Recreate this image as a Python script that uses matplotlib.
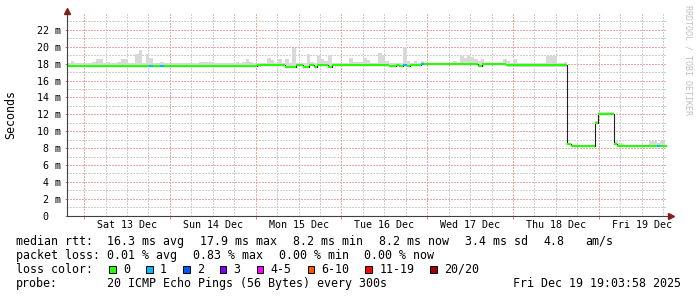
import matplotlib.pyplot as plt
from matplotlib.patches import Rectangle
from matplotlib.ticker import MultipleLocator, FuncFormatter
import numpy as np

plt.rcParams['font.family'] = ['DejaVu Sans Mono']

# time axis in hours from Sat 13 Dec 00:00, graph ends Fri 19 Dec 19:03:58
t_start = -4.93
t_end = 163.07
day_labels = ['Sat 13 Dec', 'Sun 14 Dec', 'Mon 15 Dec', 'Tue 16 Dec',
              'Wed 17 Dec', 'Thu 18 Dec', 'Fri 19 Dec']

# median rtt in ms, as steps (start hour, value, lost pings)
med_start = [-4.93, 18.09, 19.21, 21.17, 22.46, 48.40, 56.29, 59.28, 61.16, 63.00,
             64.23, 65.16, 68.15, 69.27, 85.37, 87.25, 88.09, 89.12, 90.24, 91.16,
             94.24, 95.16, 110.09, 111.30, 118.01, 134.98, 136.10, 142.98, 143.82, 148.13,
             148.97, 160.23, 160.99]
med_rtt = [17.75, 17.75, 17.75, 17.75, 17.75, 17.9, 17.65, 17.9, 17.65, 17.9,
           17.65, 17.9, 17.65, 17.9, 17.7, 17.9, 17.75, 17.9, 17.75, 17.9,
           18.0, 18.0, 17.7, 18.0, 17.8, 8.5, 8.25, 11.0, 12.1, 8.5,
           8.25, 8.25, 8.25]
med_loss = [0, 1, 0, 1, 0, 0, 0, 0, 0, 0,
            0, 0, 0, 0, 0, 0, 0, 1, 0, 0,
            1, 0, 0, 0, 0, 0, 0, 0, 0, 0,
            0, 1, 0]

# smoke: upper end of the ping spread (ms)
smoke_start = [-4.93, -3.64, -2.71, 2.24, 3.36, 5.23, 6.35, 7.27, 9.23, 10.35,
               11.27, 12.22, 14.26, 15.46, 16.22, 17.34, 18.09, 19.21, 21.17, 22.46,
               28.24, 31.32, 32.16, 36.44, 40.18, 41.30, 42.42, 43.34, 44.18, 45.30,
               46.22, 47.18, 49.50, 51.17, 52.29, 53.22, 54.17, 55.37, 56.29, 57.24,
               58.17, 59.28, 62.36, 63.28, 64.23, 65.16, 66.28, 67.20, 68.15, 69.27,
               74.19, 75.31, 77.94, 79.05, 79.98, 82.13, 83.25, 84.17, 85.37, 89.12,
               90.24, 91.16, 92.28, 93.04, 94.24, 95.16, 101.23, 103.10, 104.22, 105.15,
               106.26, 107.10, 108.22, 109.14, 110.09, 111.02, 111.94, 113.81, 115.21, 116.14,
               117.25, 118.29, 119.21, 120.05, 121.00, 122.20, 125.92, 127.32, 129.19, 132.27,
               133.19, 134.14, 134.98, 136.10, 142.98, 143.82, 148.13, 149.33, 150.73, 158.00,
               160.23, 161.00, 162.40]
smoke_top = [18.05, 18.26, 18.05, 18.2, 18.5, 18.05, 18.2, 18.05, 18.2, 18.6,
             18.5, 18.1, 19.1, 19.56, 18.05, 19.1, 18.7, 18.05, 18.2, 18.05,
             18.1, 18.05, 18.2, 18.05, 18.1, 18.05, 18.2, 18.05, 18.2, 18.5,
             18.2, 18.05, 18.1, 18.7, 18.46, 18.1, 18.5, 18.1, 18.5, 18.1,
             19.8, 18.1, 19.1, 18.2, 18.1, 18.85, 18.5, 18.35, 18.97, 18.1,
             18.7, 18.2, 18.7, 18.46, 18.05, 19.3, 19.0, 18.35, 18.1, 20.0,
             18.35, 18.05, 18.35, 18.05, 18.35, 18.05, 18.1, 18.35, 18.05, 18.85,
             18.7, 19.0, 18.8, 18.6, 18.35, 18.6, 18.05, 18.1, 18.05, 18.1,
             18.5, 18.35, 18.05, 18.5, 18.1, 18.05, 18.1, 18.05, 18.85, 18.1,
             18.05, 18.2, 8.6, 8.35, 11.2, 12.3, 8.8, 8.6, 8.35, 8.9,
             8.55, 8.9, 8.35]

loss_labels = ['0', '1', '2', '3', '4-5', '6-10', '11-19', '20/20']
loss_colors = ['#26ff00', '#00b8ff', '#0059ff', '#7e00ff', '#ff00ff',
               '#ff5500', '#ff0000', '#a10000']

rtt_stats = [16.3, 17.9, 8.2, 8.2, 3.4]
rtt_names = ['avg', 'max', 'min', 'now', 'sd']
am_s = 4.8
loss_stats = [0.01, 0.83, 0.00, 0.00]
loss_names = ['avg', 'max', 'min', 'now']
probe_text = '20 ICMP Echo Pings (56 Bytes) every 300s'
stamp_text = 'Fri Dec 19 19:03:58 2025'

W, H = 697, 297


def fx(x):
    return x / W


def fy(y):
    return 1 - y / H


fig = plt.figure(figsize=(W / 100, H / 100), dpi=100)
ax = fig.add_axes([fx(66.5), fy(215.7), (667 - 66.5) / W, (215.7 - 13) / H])

# smoke
s_edges = np.append(smoke_start, t_end)
idx = np.searchsorted(med_start, smoke_start, side='right') - 1
base = np.array(med_rtt)[idx] - 0.15
ax.bar(smoke_start, np.array(smoke_top) - base, width=np.diff(s_edges), bottom=base,
       align='edge', color='#d9d9d9', linewidth=0, zorder=2)

# median line, black steps with loss colored segments
m_edges = np.append(med_start, t_end)
ax.step(m_edges, np.append(med_rtt, med_rtt[-1]), where='post', color='#202020',
        lw=0.8, zorder=3)
ax.hlines(med_rtt, m_edges[:-1], m_edges[1:], colors=[loss_colors[l] for l in med_loss],
          lw=1.5, zorder=4)

ax.set_xlim(t_start, t_end)
ax.set_ylim(0, 24)

yt = np.arange(0, 23, 2)
ax.set_yticks(yt, labels=[f'{v:2d} m' if v else ' 0' for v in yt])
ax.set_yticks(np.arange(1, 24, 2), minor=True)
plt.setp(ax.get_yticklabels(), ha='left')
ax.tick_params(axis='y', which='major', length=1.5, width=0.7, color='#909090',
               pad=20, labelsize=7.2, labelcolor='#000000')
ax.tick_params(axis='y', which='minor', length=0)

ax.xaxis.set_major_locator(MultipleLocator(24))
ax.xaxis.set_minor_locator(MultipleLocator(6))
ax.xaxis.set_major_formatter(FuncFormatter(lambda h, p: ''))
ax.xaxis.set_minor_formatter(FuncFormatter(
    lambda h, p: day_labels[int(round(h)) // 24] if round(h) % 24 == 12 else ''))
ax.tick_params(axis='x', which='major', length=2.2, width=0.7, color='#e08080')
ax.tick_params(axis='x', which='minor', length=0, pad=3, labelsize=7.2)

ax.set_axisbelow(True)
ax.grid(which='major', color='#eaa8a8', lw=0.75, linestyle=(0, (1.4, 1.4)), antialiased=False)
ax.grid(which='minor', color='#cfcfcf', lw=0.75, linestyle=(0, (1.4, 1.4)), antialiased=False)

for s in ['top', 'right']:
    ax.spines[s].set_visible(False)
for s in ['left', 'bottom']:
    ax.spines[s].set_color('#404040')
    ax.spines[s].set_linewidth(0.8)
    ax.spines[s].set_zorder(5)

# axis arrows
ax.plot([0, 0], [1, 1.012], color='#404040', lw=0.8, transform=ax.transAxes, clip_on=False)
ax.plot([0], [1.012], marker='^', ms=4, color='#8b1a1a', transform=ax.transAxes, clip_on=False)
ax.plot([1, 1.005], [0, 0], color='#404040', lw=0.8, transform=ax.transAxes, clip_on=False)
ax.plot([1.006], [0], marker='>', ms=4, color='#8b1a1a', transform=ax.transAxes, clip_on=False)

fig.text(fx(11), fy(114.2), 'Seconds', rotation=90, ha='center', va='center', fontsize=8.4)
fig.text(fx(687.7), fy(60), 'RRDTOOL / TOBI OETIKER', rotation=270, ha='center',
         va='center', fontsize=6, color='#c0c0c0')

# legend block
fs = 8.4
x0 = 15.5
base_y = [244.7, 258.8, 272.9, 287.0]
fig.text(fx(x0), fy(base_y[0]), 'median rtt:', fontsize=fs, va='baseline')
for xp, v, n in zip([107, 199.5, 293, 379, 465], rtt_stats, rtt_names):
    fig.text(fx(xp), fy(base_y[0]), f'{v:.1f} ms {n}', fontsize=fs, va='baseline')
fig.text(fx(543.5), fy(base_y[0]), f'{am_s:.1f}', fontsize=fs, va='baseline')
fig.text(fx(585.5), fy(base_y[0]), 'am/s', fontsize=fs, va='baseline')

fig.text(fx(x0), fy(base_y[1]), 'packet loss:', fontsize=fs, va='baseline')
for xp, v, n in zip([107, 193, 279, 364.5], loss_stats, loss_names):
    fig.text(fx(xp), fy(base_y[1]), f'{v:.2f} % {n}', fontsize=fs, va='baseline')

fig.text(fx(x0), fy(base_y[2]), 'loss color:', fontsize=fs, va='baseline')
bx = 109
for lab, col in zip(loss_labels, loss_colors):
    fig.patches.append(Rectangle((fx(bx), fy(272.5)), 6.7 / W, 6.7 / H, transform=fig.transFigure,
                                 facecolor=col, edgecolor='#000000', lw=0.7))
    fig.text(fx(bx + 14), fy(base_y[2]), lab, fontsize=fs, va='baseline')
    bx += 14.3 + 7 * len(lab) + 15.6

fig.text(fx(x0), fy(base_y[3]), 'probe:', fontsize=fs, va='baseline')
fig.text(fx(107), fy(base_y[3]), probe_text, fontsize=fs, va='baseline')
fig.text(fx(513), fy(base_y[3]), stamp_text, fontsize=fs, va='baseline')

fig.savefig('out.png', dpi=100)
